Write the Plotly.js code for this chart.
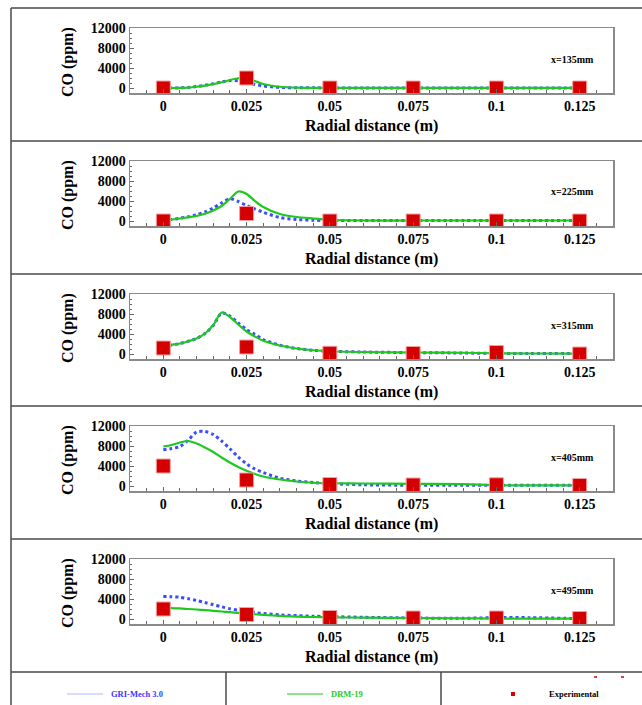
<!DOCTYPE html>
<html>
<head>
<meta charset="utf-8">
<script src="https://cdn.plot.ly/plotly-3.0.1.min.js"></script>
<style>html,body{margin:0;padding:0;background:#fff;}#chart{width:642px;height:705px;}</style>
</head>
<body>
<div id="chart"></div>
<script>
// ---- data ----
const panelLabels = ["x=135mm", "x=225mm", "x=315mm", "x=405mm", "x=495mm"];
const xTickVals = [0, 0.025, 0.05, 0.075, 0.1, 0.125];
const xTickText = ["0", "0.025", "0.05", "0.075", "0.1", "0.125"];
const yTickVals = [0, 4000, 8000, 12000];
const yTickText = ["0", "4000", "8000", "12000"];

const rModel = [0, 0.0025, 0.005, 0.0075, 0.01, 0.0125, 0.015, 0.0175, 0.02, 0.0225, 0.025, 0.0275, 0.03, 0.035, 0.04, 0.045, 0.05, 0.06, 0.075, 0.09, 0.1, 0.11, 0.125];
const rExp = [0, 0.025, 0.05, 0.075, 0.1, 0.125];

const gri135 = [0, 0, 20, 100, 300, 550, 850, 1200, 1500, 1450, 1100, 700, 400, 120, 50, 30, 20, 20, 20, 20, 20, 20, 20];
const drm135 = [0, 0, 20, 80, 250, 480, 780, 1150, 1600, 1950, 1900, 1400, 800, 250, 80, 40, 30, 20, 20, 20, 20, 20, 20];
const exp135 = [0, 2000, 0, 0, 0, 0];

const gri225 = [150, 300, 550, 850, 1250, 1800, 2600, 3600, 4450, 3900, 3100, 2400, 1750, 700, 300, 150, 100, 80, 80, 80, 80, 80, 80];
const drm225 = [150, 300, 500, 750, 1000, 1450, 2100, 3000, 4400, 5900, 5400, 4000, 2800, 1400, 800, 500, 250, 100, 100, 100, 100, 100, 100];
const exp225 = [0, 1500, 0, 0, 0, 0];

const gri315 = [1500, 1800, 2100, 2550, 3100, 4100, 5700, 8200, 7600, 6200, 4900, 3900, 2900, 1750, 1100, 750, 550, 400, 280, 200, 120, 100, 70];
const drm315 = [1600, 1850, 2100, 2550, 3100, 4100, 5800, 8300, 7400, 5900, 4500, 3500, 2650, 1700, 1100, 750, 550, 400, 300, 250, 130, 100, 70];
const exp315 = [1200, 1400, 150, 100, 300, 0];

const gri405 = [7250, 7500, 7900, 9200, 10800, 10900, 10300, 9000, 7450, 5800, 4400, 3400, 2700, 1550, 1000, 700, 480, 250, 150, 140, 140, 140, 140];
const drm405 = [7900, 8200, 8700, 9000, 8500, 7700, 6800, 5700, 4700, 3800, 3050, 2400, 1900, 1300, 900, 650, 550, 500, 420, 380, 150, 140, 140];
const exp405 = [4000, 1200, 300, 200, 250, 100];

const gri495 = [4500, 4450, 4350, 4050, 3700, 3300, 2850, 2450, 2050, 1750, 1500, 1280, 1090, 820, 680, 560, 480, 340, 200, 150, 270, 270, 70];
const drm495 = [2200, 2180, 2110, 2000, 1900, 1780, 1640, 1500, 1360, 1220, 1090, 950, 820, 610, 480, 400, 340, 270, 200, 140, 70, 70, 70];
const exp495 = [2000, 900, 300, 200, 200, 100];

const griSeries = [gri135, gri225, gri315, gri405, gri495];
const drmSeries = [drm135, drm225, drm315, drm405, drm495];
const expSeries = [exp135, exp225, exp315, exp405, exp495];

// ---- styling / layout ----
const W = 642, H = 705;
const FONT = "Liberation Serif, Times New Roman, serif";
const BLUE = "#3a4cff", GREEN = "#1fc81f", RED = "#d40000";
const panelTops = [8, 141, 274, 406, 539];
const boxL = 130, boxR = 613;
const px = v => v / W;
const py = v => 1 - v / H;

const traces = [];
const layout = {
  width: W, height: H,
  margin: {l: 0, r: 0, t: 0, b: 0},
  paper_bgcolor: "#fff", plot_bgcolor: "#fff",
  showlegend: false,
  font: {family: FONT, color: "#000"},
  shapes: [], annotations: []
};

panelTops.forEach((T, i) => {
  const n = i + 1;
  const xa = "x" + (n === 1 ? "" : n), ya = "y" + (n === 1 ? "" : n);
  traces.push({x: rModel, y: griSeries[i], xaxis: xa, yaxis: ya, type: "scatter", mode: "lines",
    line: {color: BLUE, width: 3, dash: "dot", shape: "spline", smoothing: 0.8}, name: "GRI-Mech 3.0"});
  traces.push({x: rModel, y: drmSeries[i], xaxis: xa, yaxis: ya, type: "scatter", mode: "lines",
    line: {color: GREEN, width: 2.2, shape: "spline", smoothing: 0.8}, name: "DRM-19"});
  traces.push({x: rExp, y: expSeries[i], xaxis: xa, yaxis: ya, type: "scatter", mode: "markers",
    marker: {symbol: "square", size: 14, color: RED, line: {color: "#f4a0a0", width: 1}}, name: "Experimental"});

  const top = T + 20, bot = T + 85;
  layout["xaxis" + (n === 1 ? "" : n)] = {
    domain: [px(boxL), px(boxR)], anchor: ya, range: [-0.01, 0.135],
    tickvals: xTickVals, ticktext: xTickText, ticks: "inside", ticklen: 4, tickcolor: "#666",
    minor: {dtick: 0.005, tick0: 0, ticks: "inside", ticklen: 3, tickcolor: "#666"},
    showline: true, mirror: true, linecolor: "#8a8a8a", linewidth: 1.5,
    showgrid: false, zeroline: false,
    tickfont: {family: FONT, size: 14, color: "#000", weight: "bold"}
  };
  layout["yaxis" + (n === 1 ? "" : n)] = {
    domain: [py(bot), py(top)], anchor: xa, range: [-1000, 12000],
    tickvals: yTickVals, ticktext: yTickText, ticks: "inside", ticklen: 4, tickcolor: "#666",
    minor: {dtick: 1000, tick0: 0, ticks: "inside", ticklen: 2, tickcolor: "#666"},
    showline: true, mirror: true, linecolor: "#8a8a8a", linewidth: 1.5,
    showgrid: false, zeroline: false,
    tickfont: {family: FONT, size: 14, color: "#000", weight: "bold"}
  };
  layout.annotations.push({xref: "paper", yref: "paper", x: px(372), y: py(T + 118), text: "<b>Radial distance (m)</b>",
    showarrow: false, xanchor: "center", yanchor: "middle", font: {family: FONT, size: 16, color: "#000"}});
  layout.annotations.push({xref: "paper", yref: "paper", x: px(68), y: py(T + 54), text: "<b>CO (ppm)</b>", textangle: -90,
    showarrow: false, xanchor: "center", yanchor: "middle", font: {family: FONT, size: 16, color: "#000"}});
  layout.annotations.push({xref: "paper", yref: "paper", x: px(549), y: py(T + 51), text: "<b>" + panelLabels[i] + "</b>",
    showarrow: false, xanchor: "left", yanchor: "middle", font: {family: FONT, size: 10, color: "#000"}});
});

// panel frame lines
const frameColor = "#4a4a4a";
[8, 141, 274, 406, 539, 672].forEach(yv => {
  layout.shapes.push({type: "line", xref: "paper", yref: "paper", x0: px(11), x1: 1, y0: py(yv), y1: py(yv),
    line: {color: frameColor, width: 1.5}});
});
layout.shapes.push({type: "line", xref: "paper", yref: "paper", x0: px(11), x1: px(11), y0: py(8), y1: 0, line: {color: frameColor, width: 1.5}});
[226, 441].forEach(xv => {
  layout.shapes.push({type: "line", xref: "paper", yref: "paper", x0: px(xv), x1: px(xv), y0: py(672), y1: 0, line: {color: frameColor, width: 1.5}});
});

// legend row
const LY = 694;
layout.shapes.push({type: "line", xref: "paper", yref: "paper", x0: px(67), x1: px(103), y0: py(LY), y1: py(LY), line: {color: "#b0b4ff", width: 1}});
layout.shapes.push({type: "line", xref: "paper", yref: "paper", x0: px(287), x1: px(323), y0: py(LY), y1: py(LY), line: {color: GREEN, width: 1.2}});
layout.shapes.push({type: "rect", xref: "paper", yref: "paper", x0: px(511), x1: px(515), y0: py(LY + 2), y1: py(LY - 2), fillcolor: RED, line: {width: 0}});
layout.shapes.push({type: "rect", xref: "paper", yref: "paper", x0: px(594), x1: px(597), y0: py(678), y1: py(676), fillcolor: "#e04040", line: {width: 0}});
layout.shapes.push({type: "rect", xref: "paper", yref: "paper", x0: px(621), x1: px(624), y0: py(678), y1: py(676), fillcolor: "#e04040", line: {width: 0}});
layout.annotations.push({xref: "paper", yref: "paper", x: px(109), y: py(LY), text: "<b>GRI-Mech 3.0</b>", showarrow: false,
  xanchor: "left", yanchor: "middle", font: {family: FONT, size: 8.5, color: "#3838ff"}});
layout.annotations.push({xref: "paper", yref: "paper", x: px(329), y: py(LY), text: "<b>DRM-19</b>", showarrow: false,
  xanchor: "left", yanchor: "middle", font: {family: FONT, size: 8.5, color: GREEN}});
layout.annotations.push({xref: "paper", yref: "paper", x: px(547), y: py(LY), text: "<b>Experimental</b>", showarrow: false,
  xanchor: "left", yanchor: "middle", font: {family: FONT, size: 8.5, color: "#000"}});

Plotly.newPlot("chart", traces, layout, {displayModeBar: false, staticPlot: true});
</script>
</body>
</html>
